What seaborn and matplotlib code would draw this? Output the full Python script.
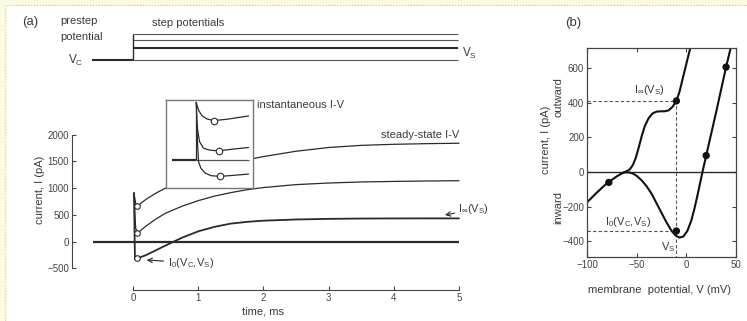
import matplotlib
matplotlib.use('Agg')
import matplotlib.pyplot as plt
from matplotlib.patches import Rectangle
import seaborn as sns

W, H = 747, 321

# ---- panel (a): voltage protocol (mV)
t_hold = [-0.63, 0.0]
v_hold = -80
step_levels = [-80, -10, 35, 65]
v_step = -10

# ---- panel (a): current traces (ms, pA)
t_top = [0.015, 0.04, 0.066, 0.2, 0.35, 0.5, 0.75, 1.0, 1.25, 1.5, 1.75, 2.0, 2.5, 3.0, 3.5, 4.0, 4.5, 5.0]
i_top = [908, 720, 665, 790, 905, 1000, 1140, 1260, 1370, 1460, 1530, 1590, 1690, 1760, 1800, 1820, 1832, 1840]
t_mid = [0.015, 0.04, 0.066, 0.2, 0.35, 0.5, 0.75, 1.0, 1.25, 1.5, 1.75, 2.0, 2.5, 3.0, 3.5, 4.0, 4.5, 5.0]
i_mid = [908, 260, 154, 290, 420, 530, 660, 765, 850, 915, 970, 1010, 1065, 1095, 1115, 1125, 1133, 1138]
t_bot = [0.015, 0.03, 0.066, 0.2, 0.35, 0.5, 0.75, 1.0, 1.25, 1.5, 1.75, 2.0, 2.5, 3.0, 3.5, 4.0, 4.5, 5.0]
i_bot = [908, -330, -315, -255, -165, -75, 70, 190, 275, 335, 368, 390, 412, 424, 430, 432, 433, 433]
t_base = [-0.61, 5.0]
t_circ = [0.066, 0.066, 0.066]
i_circ = [665, 154, -315]

# ---- inset (zoomed onset, arbitrary scale)
ins_base_t = [-0.073, 0.0]
ins_top_t = [0.0, 0.007, 0.017, 0.032, 0.052, 0.092, 0.157]
ins_top_i = [865, 750, 665, 615, 590, 610, 660]
ins_mid_t = [0.0, 0.004, 0.010, 0.022, 0.040, 0.067, 0.110, 0.157]
ins_mid_i = [865, 475, 275, 175, 145, 135, 160, 185]
ins_bot_t = [0.002, 0.007, 0.014, 0.027, 0.045, 0.072, 0.110, 0.157]
ins_bot_i = [500, -25, -125, -200, -240, -250, -235, -215]
ins_circ_t = [0.052, 0.067, 0.072]
ins_circ_i = [590, 135, -250]

# ---- panel (b): I-V curves (mV, pA)
v_ss = [-100, -90, -80, -70, -63, -60, -57, -54, -51, -48, -45, -42, -38, -34, -30, -26, -22, -18, -14, -10, -7, -4, -1, 2, 4]
i_ss = [-175, -118, -65, -25, -2, 5, 15, 38, 80, 140, 205, 262, 310, 338, 348, 350, 350, 355, 375, 410, 460, 530, 600, 670, 715]
v_inst = [-66, -62, -58, -54, -50, -45, -40, -35, -30, -25, -20, -15, -11, -7, -3, 1, 5, 8, 11, 14, 17, 20, 25, 30, 35, 40, 44, 46]
i_inst = [-8, -2, -2, -8, -22, -48, -82, -125, -180, -235, -290, -338, -365, -378, -372, -340, -280, -215, -140, -60, 20, 95, 220, 345, 475, 605, 700, 740]
v_dots = [-78, -10, -10, 20, 40]
i_dots = [-60, 410, -340, 95, 605]
v_s = -10
i_inf_vs = 410
i_0_vs = -340

sns.set_style('ticks')
plt.rcParams['font.family'] = ['Liberation Sans', 'DejaVu Sans']
plt.rcParams['mathtext.default'] = 'regular'
plt.rcParams['xtick.direction'] = 'in'
plt.rcParams['ytick.direction'] = 'in'

ink = '#2a2a2a'
txt = '#3a3a3a'

fig = plt.figure(figsize=(W / 100, H / 100), dpi=100, facecolor='#fcfae2')
fig.patches.append(Rectangle((7 / W, 0), 1, 1 - 6 / H, transform=fig.transFigure,
                             facecolor='white', edgecolor='none', zorder=-10))
fig.lines.append(plt.Line2D([7 / W, 1], [1 - 5 / H, 1 - 5 / H], transform=fig.transFigure,
                            color='#b8b8b0', lw=0.8, ls=':'))
fig.lines.append(plt.Line2D([5 / W, 5 / W], [0, 1 - 5 / H], transform=fig.transFigure,
                            color='#c8c8c0', lw=0.8, ls=':'))


def box(x0, y0, x1, y1):
    return [x0 / W, 1 - y1 / H, (x1 - x0) / W, (y1 - y0) / H]


def ftext(x, y, s, **kw):
    fig.text(x / W, 1 - y / H, s, color=txt, **kw)


xl = ((72 - 133) / 65.2, (470 - 133) / 65.2)

# ---------------- protocol
axp = fig.add_axes(box(72, 20, 470, 70))
axp.set_facecolor('none')
axp.hlines(v_hold, t_hold[0], t_hold[1], color=ink, lw=1.5)
for v in step_levels:
    axp.hlines(v, 0, 4.985, color=ink if v == v_step else '#555555',
               lw=1.5 if v == v_step else 0.8)
axp.vlines(0, v_hold, max(step_levels), color=ink, lw=1.0)
axp.set_xlim(*xl)
axp.set_ylim(-136.8, 147.3)
axp.axis('off')

ftext(22, 22, '(a)', fontsize=9.5, va='center')
ftext(60, 21, 'prestep', fontsize=8, va='center')
ftext(60, 37, 'potential', fontsize=8, va='center')
ftext(152, 23, 'step potentials', fontsize=8, va='center')
ftext(68, 60, 'V$_{C}$', fontsize=8.5, va='center')
ftext(462, 53, 'V$_{S}$', fontsize=8.5, va='center')

# ---------------- current traces
ax = fig.add_axes(box(72, 95, 470, 290))
ax.set_facecolor('none')
ax.hlines(0, t_base[0], t_base[1], color=ink, lw=1.6)
for tt, ii, lw in [(t_top, i_top, 0.9), (t_mid, i_mid, 0.9), (t_bot, i_bot, 1.3)]:
    sns.lineplot(x=tt, y=ii, ax=ax, color=ink, lw=lw, sort=False, estimator=None)
sns.scatterplot(x=t_circ, y=i_circ, ax=ax, s=16, facecolor='white', edgecolor=ink,
                linewidth=0.8, zorder=4)
ax.set_xlim(*xl)
ax.set_ylim(-908, 2743)
sns.despine(ax=ax)
ax.spines['left'].set_bounds(-500, 2000)
ax.spines['bottom'].set_bounds(0, 5)
for s in ['left', 'bottom']:
    ax.spines[s].set_color('#444444')
    ax.spines[s].set_linewidth(0.8)
ax.set_yticks([-500, 0, 500, 1000, 1500, 2000])
ax.set_xticks([0, 1, 2, 3, 4, 5])
ax.tick_params(labelsize=7, colors='#444444', length=3, width=0.8, pad=2)
ax.annotate('instantaneous I-V', xy=(1.9, 2556), fontsize=8, color=txt, va='center')
ax.annotate('steady-state I-V', xy=(5.0, 1994), fontsize=8, color=txt, va='center', ha='right')
ax.annotate('I$_{\\infty}$(V$_{S}$)', xy=(4.785, 496), xytext=(4.985, 600), fontsize=8,
            color=txt, va='center', annotation_clip=False,
            arrowprops=dict(arrowstyle='->', color=ink, lw=0.8, shrinkA=0, shrinkB=0))
ax.annotate('I$_{0}$(V$_{C}$,V$_{S}$)', xy=(0.21, -346), xytext=(0.54, -400), fontsize=8,
            color=txt, va='center',
            arrowprops=dict(arrowstyle='->', color=ink, lw=0.8, shrinkA=1, shrinkB=0))
ftext(40, 190, 'current, I (pA)', fontsize=8, rotation=90, va='center', ha='center')
ftext(263, 311, 'time, ms', fontsize=8, va='center', ha='center')

# ---------------- inset
axi = fig.add_axes(box(166, 100, 253, 188))
axi.set_zorder(5)
axi.set_facecolor('white')
axi.hlines(0, ins_base_t[0], ins_base_t[1], color=ink, lw=1.6)
axi.hlines(0, 0, 0.157, color='#555555', lw=0.9)
for tt, ii in [(ins_top_t, ins_top_i), (ins_mid_t, ins_mid_i), (ins_bot_t, ins_bot_i)]:
    sns.lineplot(x=tt, y=ii, ax=axi, color=ink, lw=0.9, sort=False, estimator=None)
axi.vlines(0, 0, 865, color=ink, lw=0.9)
sns.scatterplot(x=ins_circ_t, y=ins_circ_i, ax=axi, s=22, facecolor='white', edgecolor=ink,
                linewidth=0.8, zorder=4)
axi.set_xlim(-0.09, 0.17)
axi.set_ylim(-425, 900)
axi.set_xticks([])
axi.set_yticks([])
for s in axi.spines.values():
    s.set_color('#777777')
    s.set_linewidth(1.0)

# ---------------- panel (b)
axb = fig.add_axes(box(587, 48, 736, 257))
axb.set_facecolor('white')
axb.axhline(0, color=ink, lw=1.0)
axb.hlines([i_inf_vs, i_0_vs], -100, v_s, color='#555555', lw=0.8, ls=(0, (3, 2)))
axb.vlines(v_s, -500, i_inf_vs, color='#555555', lw=0.8, ls=(0, (3, 2)))
sns.lineplot(x=v_ss, y=i_ss, ax=axb, color='#111111', lw=1.5, sort=False, estimator=None)
sns.lineplot(x=v_inst, y=i_inst, ax=axb, color='#111111', lw=1.5, sort=False, estimator=None)
sns.scatterplot(x=v_dots, y=i_dots, ax=axb, s=28, color='#111111', edgecolor='none', zorder=5)
axb.set_xlim(-100, 50)
axb.set_ylim(-490, 715)
axb.set_xticks([-100, -50, 0, 50])
axb.set_yticks([-400, -200, 0, 200, 400, 600])
axb.tick_params(labelsize=7, colors='#444444', length=3, width=0.8, pad=2,
                top=True, right=True)
for s in axb.spines.values():
    s.set_color('#444444')
    s.set_linewidth(0.9)
axb.text(-37, 470, 'I$_{\\infty}$(V$_{S}$)', fontsize=8, color=txt, ha='center', va='center')
axb.text(-59, -287, 'I$_{0}$(V$_{C}$,V$_{S}$)', fontsize=8, color=txt, ha='center', va='center')
axb.text(-18, -431, 'V$_{S}$', fontsize=8, color=txt, ha='center', va='center')

ftext(565, 23, '(b)', fontsize=9.5, va='center')
ftext(546, 140, 'current, I (pA)', fontsize=8, rotation=90, va='center', ha='center')
ftext(558, 97, 'outward', fontsize=8, rotation=90, va='center', ha='center')
ftext(558, 207, 'inward', fontsize=8, rotation=90, va='center', ha='center')
ftext(660, 290, 'membrane  potential, V (mV)', fontsize=8, va='center', ha='center')

fig.savefig('out.png', dpi=100, facecolor=fig.get_facecolor())
